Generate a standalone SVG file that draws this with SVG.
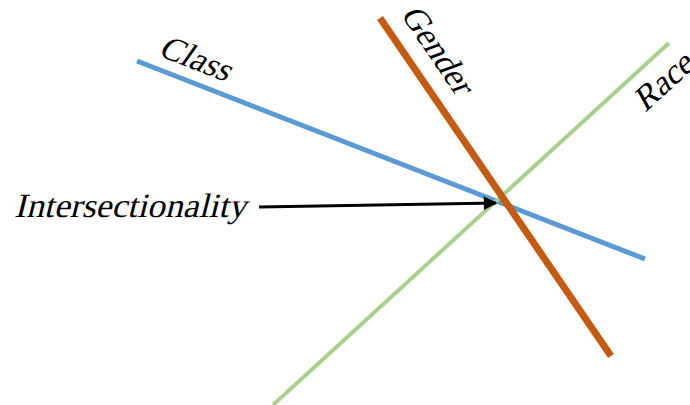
<svg xmlns="http://www.w3.org/2000/svg" width="690" height="405" viewBox="0 0 690 405">
<style>
.lbl{font-family:"Liberation Serif","DejaVu Serif",serif;font-size:34px;fill:#000}
</style>
<defs>
<marker id="ah" viewBox="0 0 10 10" refX="9" refY="5" markerWidth="5" markerHeight="4.5" orient="auto" markerUnits="strokeWidth">
<path d="M0,0 L10,5 L0,10 z" fill="#000"/>
</marker>
</defs>
<rect width="690" height="405" fill="#fff"/>
<g id="connectors">
<line id="class-line" x1="137" y1="61" x2="645" y2="259" stroke="#5B9BD5" stroke-width="5"/>
<line id="race-line" x1="273" y1="405" x2="669" y2="43" stroke="#A9D18E" stroke-width="4"/>
<line id="gender-line" x1="380" y1="18" x2="611" y2="356" stroke="#C55A11" stroke-width="7"/>
<line id="arrow" x1="259" y1="207" x2="496" y2="203" stroke="#000" stroke-width="3" marker-end="url(#ah)"/>
</g>
<g id="class"><text class="lbl" transform="translate(157,55) rotate(21.3) skewX(-14)">Class</text></g>
<g id="gender"><text class="lbl" transform="translate(400,14) rotate(55.6) skewX(-14)">Gender</text></g>
<g id="race"><text class="lbl" transform="translate(645,113) rotate(-42.4) skewX(-14)">Race</text></g>
<g id="intersectionality"><text class="lbl" transform="translate(14,217) skewX(-14)" textLength="232" lengthAdjust="spacingAndGlyphs">Intersectionality</text></g>
</svg>
